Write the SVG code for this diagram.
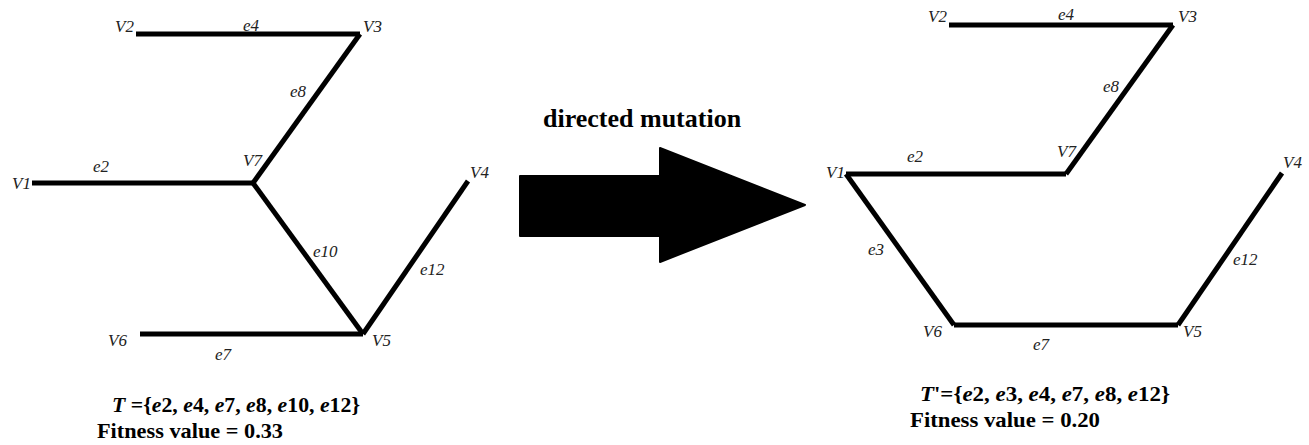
<svg xmlns="http://www.w3.org/2000/svg" width="1309" height="445" viewBox="0 0 1309 445">
<style>
.edge{stroke:#000;stroke-width:5;fill:none;stroke-linecap:butt;stroke-linejoin:miter}
.lbl{font-family:"Liberation Serif","DejaVu Serif",serif;font-style:italic;font-size:17px;fill:#222}
.f{font-family:"Liberation Serif","DejaVu Serif",serif;font-weight:bold;font-size:21px;fill:#000}
.fit{font-family:"Liberation Serif","DejaVu Serif",serif;font-weight:bold;font-size:22px;fill:#000}
.it{font-style:italic}
.title{font-family:"Liberation Serif","DejaVu Serif",serif;font-weight:bold;font-size:26px;fill:#000}
</style>
<rect width="1309" height="445" fill="#fff"/>

<g id="connectors">
  <!-- left tree -->
  <line class="edge" x1="136" y1="34" x2="360" y2="34"/>
  <line class="edge" x1="360" y1="34" x2="253" y2="183"/>
  <line class="edge" x1="32" y1="183" x2="253" y2="183"/>
  <line class="edge" x1="253" y1="183" x2="363" y2="334"/>
  <line class="edge" x1="468" y1="181" x2="363" y2="334"/>
  <line class="edge" x1="140" y1="334" x2="363" y2="334"/>
  <!-- right tree -->
  <line class="edge" x1="949" y1="25" x2="1173" y2="25"/>
  <line class="edge" x1="1173" y1="25" x2="1066" y2="174"/>
  <line class="edge" x1="846" y1="174" x2="1066" y2="174"/>
  <line class="edge" x1="846" y1="174" x2="954" y2="325"/>
  <line class="edge" x1="954" y1="325" x2="1178" y2="325"/>
  <line class="edge" x1="1282" y1="173" x2="1178" y2="325"/>
</g>

<g id="left-labels">
  <text class="lbl" x="115" y="32">V2</text>
  <text class="lbl" x="243" y="31">e4</text>
  <text class="lbl" x="363" y="32">V3</text>
  <text class="lbl" x="290" y="97">e8</text>
  <text class="lbl" x="243" y="166">V7</text>
  <text class="lbl" x="12" y="189">V1</text>
  <text class="lbl" x="93" y="172">e2</text>
  <text class="lbl" x="313" y="257">e10</text>
  <text class="lbl" x="470" y="178">V4</text>
  <text class="lbl" x="420" y="275">e12</text>
  <text class="lbl" x="108" y="346">V6</text>
  <text class="lbl" x="215" y="360">e7</text>
  <text class="lbl" x="372" y="346">V5</text>
</g>

<g id="right-labels">
  <text class="lbl" x="928" y="22">V2</text>
  <text class="lbl" x="1058" y="20">e4</text>
  <text class="lbl" x="1178" y="22">V3</text>
  <text class="lbl" x="1103" y="92">e8</text>
  <text class="lbl" x="1057" y="157">V7</text>
  <text class="lbl" x="907" y="162">e2</text>
  <text class="lbl" x="826" y="178">V1</text>
  <text class="lbl" x="1283" y="168">V4</text>
  <text class="lbl" x="868" y="255">e3</text>
  <text class="lbl" x="923" y="337">V6</text>
  <text class="lbl" x="1033" y="350">e7</text>
  <text class="lbl" x="1183" y="337">V5</text>
  <text class="lbl" x="1233" y="265">e12</text>
</g>

<g id="arrow">
  <polygon points="520,176 660,176 660,148 805,205 660,262 660,236 520,236" fill="#000" stroke="#000" stroke-width="2" stroke-linejoin="round"/>
  <text class="title" x="543" y="127">directed mutation</text>
</g>

<g id="left-caption">
  <text class="f" x="112" y="412" textLength="248" lengthAdjust="spacingAndGlyphs"><tspan class="it">T</tspan> ={<tspan class="it">e</tspan>2, <tspan class="it">e</tspan>4, <tspan class="it">e</tspan>7, <tspan class="it">e</tspan>8, <tspan class="it">e</tspan>10, <tspan class="it">e</tspan>12}</text>
  <text class="fit" x="97" y="438" textLength="186" lengthAdjust="spacingAndGlyphs">Fitness value = 0.33</text>
</g>

<g id="right-caption">
  <text class="f" x="920" y="401" textLength="250" lengthAdjust="spacingAndGlyphs"><tspan class="it">T</tspan>'={<tspan class="it">e</tspan>2, <tspan class="it">e</tspan>3, <tspan class="it">e</tspan>4, <tspan class="it">e</tspan>7, <tspan class="it">e</tspan>8, <tspan class="it">e</tspan>12}</text>
  <text class="fit" x="910" y="427" textLength="190" lengthAdjust="spacingAndGlyphs">Fitness value = 0.20</text>
</g>
</svg>
